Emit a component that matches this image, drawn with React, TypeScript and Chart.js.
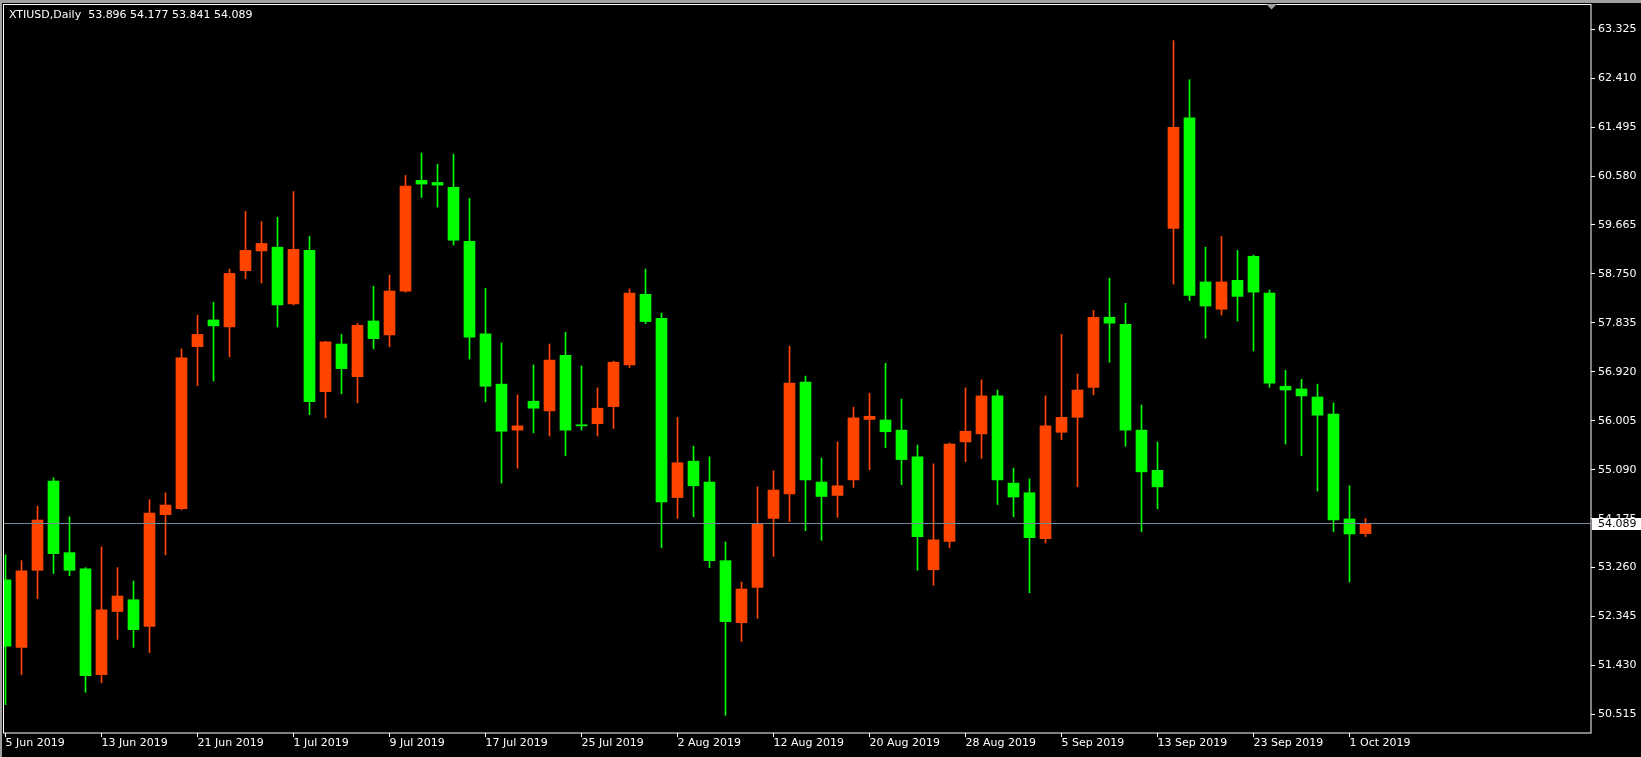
import React, { useEffect, useRef } from "react";
import { Chart, registerables } from "chart.js";

Chart.register(...registerables);

const symbolTitle = "XTIUSD,Daily";

const dates = [
  "2019.06.05", "2019.06.06", "2019.06.07", "2019.06.10", "2019.06.11", "2019.06.12", "2019.06.13", "2019.06.14",
  "2019.06.17", "2019.06.18", "2019.06.19", "2019.06.20", "2019.06.21", "2019.06.24", "2019.06.25", "2019.06.26",
  "2019.06.27", "2019.06.28", "2019.07.01", "2019.07.02", "2019.07.03", "2019.07.04", "2019.07.05", "2019.07.08",
  "2019.07.09", "2019.07.10", "2019.07.11", "2019.07.12", "2019.07.15", "2019.07.16", "2019.07.17", "2019.07.18",
  "2019.07.19", "2019.07.22", "2019.07.23", "2019.07.24", "2019.07.25", "2019.07.26", "2019.07.29", "2019.07.30",
  "2019.07.31", "2019.08.01", "2019.08.02", "2019.08.05", "2019.08.06", "2019.08.07", "2019.08.08", "2019.08.09",
  "2019.08.12", "2019.08.13", "2019.08.14", "2019.08.15", "2019.08.16", "2019.08.19", "2019.08.20", "2019.08.21",
  "2019.08.22", "2019.08.23", "2019.08.26", "2019.08.27", "2019.08.28", "2019.08.29", "2019.08.30", "2019.09.02",
  "2019.09.03", "2019.09.04", "2019.09.05", "2019.09.06", "2019.09.09", "2019.09.10", "2019.09.11", "2019.09.12",
  "2019.09.13", "2019.09.16", "2019.09.17", "2019.09.18", "2019.09.19", "2019.09.20", "2019.09.23", "2019.09.24",
  "2019.09.25", "2019.09.26", "2019.09.27", "2019.09.30", "2019.10.01", "2019.10.02",
];

const opens = [
  53.03, 51.77, 53.21, 54.88, 53.54, 53.24, 51.26, 52.44, 52.66, 52.16,
  54.25, 54.36, 57.39, 57.89, 57.76, 58.81, 59.18, 59.25, 58.19, 59.19,
  56.55, 57.44, 56.83, 57.87, 57.61, 58.43, 60.50, 60.46, 60.37, 59.36,
  57.63, 56.69, 55.83, 56.37, 56.19, 57.23, 55.93, 55.95, 56.27, 57.05,
  58.37, 57.92, 54.57, 55.25, 54.86, 53.39, 52.23, 52.89, 54.18, 54.64,
  56.73, 54.86, 54.61, 54.90, 56.03, 56.02, 55.83, 55.33, 53.22, 53.75,
  55.61, 55.76, 56.47, 54.84, 54.66, 53.80, 55.79, 56.07, 56.63, 57.94,
  57.81, 55.83, 55.08, 59.60, 61.67, 58.60, 58.09, 58.63, 59.08, 58.39,
  56.65, 56.60, 56.45, 56.13, 54.17, 53.896,
];

const highs = [
  53.50, 53.39, 54.41, 54.94, 54.21, 53.26, 53.65, 53.26, 53.01, 54.53,
  54.66, 57.35, 57.98, 58.22, 58.84, 59.92, 59.73, 59.81, 60.29, 59.45,
  57.49, 57.62, 57.83, 58.52, 58.73, 60.59, 61.01, 60.80, 60.99, 60.16,
  58.48, 57.46, 56.49, 57.05, 57.44, 57.66, 57.03, 56.62, 57.12, 58.47,
  58.84, 58.02, 56.07, 55.53, 55.33, 53.74, 52.99, 54.77, 55.07, 57.40,
  56.84, 55.31, 55.61, 56.26, 56.52, 57.08, 56.41, 55.55, 55.20, 55.59,
  56.62, 56.77, 56.58, 55.12, 54.92, 56.47, 57.62, 56.88, 58.07, 58.67,
  58.20, 56.30, 55.61, 63.11, 62.38, 59.25, 59.45, 59.19, 59.10, 58.45,
  56.95, 56.78, 56.69, 56.34, 54.79, 54.177,
];

const lows = [
  50.70, 51.26, 52.68, 53.15, 53.11, 50.93, 51.11, 51.92, 51.77, 51.67,
  53.50, 54.34, 56.66, 56.75, 57.20, 58.66, 58.58, 57.76, 58.17, 56.12,
  56.06, 56.51, 56.34, 57.35, 57.39, 58.41, 60.18, 60.00, 59.29, 57.16,
  56.36, 54.84, 55.12, 55.78, 55.72, 55.35, 55.83, 55.72, 55.86, 57.00,
  57.82, 53.63, 54.18, 54.21, 53.26, 50.50, 51.88, 52.31, 53.47, 54.12,
  53.95, 53.77, 54.20, 54.76, 55.09, 55.50, 54.81, 53.21, 52.93, 53.63,
  55.24, 55.30, 54.44, 54.21, 52.79, 53.72, 55.65, 54.77, 56.49, 57.10,
  55.53, 53.93, 54.36, 58.56, 58.25, 57.55, 57.98, 57.87, 57.31, 56.63,
  55.57, 55.35, 54.69, 53.93, 52.99, 53.841,
];

const closes = [
  51.79, 53.20, 54.15, 53.52, 53.21, 51.24, 52.47, 52.73, 52.10, 54.28,
  54.43, 57.18, 57.62, 57.78, 58.76, 59.19, 59.32, 58.17, 59.21, 56.36,
  57.48, 56.98, 57.79, 57.54, 58.43, 60.39, 60.43, 60.41, 59.38, 57.57,
  56.65, 55.81, 55.91, 56.24, 57.14, 55.83, 55.91, 56.24, 57.10, 58.39,
  57.86, 54.49, 55.22, 54.79, 53.39, 52.25, 52.86, 54.09, 54.71, 56.71,
  54.90, 54.59, 54.79, 56.06, 56.09, 55.80, 55.28, 53.84, 53.78, 55.57,
  55.81, 56.47, 54.90, 54.58, 53.82, 55.91, 56.07, 56.58, 57.94, 57.83,
  55.83, 55.05, 54.77, 61.49, 58.35, 58.15, 58.60, 58.33, 58.41, 56.71,
  56.58, 56.47, 56.11, 54.15, 53.89, 54.089,
];

const xTickIndex = [0, 6, 12, 18, 24, 30, 36, 42, 48, 54, 60, 66, 72, 78, 84];
const xTickLabels = [
  "5 Jun 2019", "13 Jun 2019", "21 Jun 2019", "1 Jul 2019", "9 Jul 2019", "17 Jul 2019",
  "25 Jul 2019", "2 Aug 2019", "12 Aug 2019", "20 Aug 2019", "28 Aug 2019", "5 Sep 2019",
  "13 Sep 2019", "23 Sep 2019", "1 Oct 2019",
];

const yTicks = [
  50.515, 51.43, 52.345, 53.26, 54.175, 55.09, 56.005, 56.92, 57.835, 58.75,
  59.665, 60.58, 61.495, 62.41, 63.325,
];

const W = 1641;
const H = 757;
const BULL = "#FF4500";
const BEAR = "#00FF00";
const FONT = "'DejaVu Sans'";

// axis ranges
const xMin = -0.09375;
const xMax = 99.09375;
const yMin = 50.169;
const yMax = 63.777;

export default function App() {
  const ref = useRef<HTMLCanvasElement | null>(null);

  useEffect(() => {
    document.body.style.margin = "0";
    document.body.style.background = "#000";
    const canvas = ref.current;
    if (!canvas) return;

    const colors = closes.map((c, i) => (c > opens[i] ? BULL : BEAR));
    const last = closes.length - 1;
    const header = `${symbolTitle}  ${opens[last].toFixed(3)} ${highs[last].toFixed(3)} ${lows[last].toFixed(3)} ${closes[last].toFixed(3)}`;

    const mt4 = {
      id: "mt4",
      beforeDraw(chart: any) {
        const ctx = chart.ctx;
        ctx.save();
        ctx.fillStyle = "#000";
        ctx.fillRect(0, 0, W, H);
        ctx.fillStyle = "#A0A0A0";
        ctx.fillRect(0, 0, W, 3);
        ctx.fillRect(0, 0, 2, H);
        ctx.restore();
      },
      afterDatasetsDraw(chart: any) {
        const ctx = chart.ctx;
        const a = chart.chartArea;
        const y = Math.round(chart.scales.y.getPixelForValue(closes[last])) + 0.5;
        ctx.save();
        ctx.strokeStyle = "#778899";
        ctx.lineWidth = 1;
        ctx.beginPath();
        ctx.moveTo(a.left, y);
        ctx.lineTo(a.right, y);
        ctx.stroke();
        ctx.restore();
      },
      afterDraw(chart: any) {
        const ctx = chart.ctx;
        const a = chart.chartArea;
        ctx.save();
        // frame
        ctx.strokeStyle = "#FFFFFF";
        ctx.lineWidth = 1;
        ctx.strokeRect(a.left - 0.5, a.top - 0.5, a.right - a.left + 0.5, a.bottom - a.top + 0.5);
        // header
        ctx.fillStyle = "#FFFFFF";
        ctx.font = `11px ${FONT}`;
        ctx.textBaseline = "alphabetic";
        ctx.textAlign = "left";
        ctx.fillText(header, 9, 18);
        // price label
        const y = Math.round(chart.scales.y.getPixelForValue(closes[last]));
        ctx.fillStyle = "#FFFFFF";
        ctx.fillRect(a.right + 1, y - 5, W - a.right - 1, 12);
        ctx.fillStyle = "#000000";
        ctx.textBaseline = "middle";
        ctx.fillText(closes[last].toFixed(3), a.right + 7, y + 1);
        // chart shift marker
        ctx.fillStyle = "#A0A0A0";
        ctx.beginPath();
        ctx.moveTo(1266, 4);
        ctx.lineTo(1277, 4);
        ctx.lineTo(1271.5, 9.5);
        ctx.closePath();
        ctx.fill();
        ctx.restore();
      },
    };

    const chart = new Chart(canvas, {
      type: "bar",
      data: {
        datasets: [
          {
            label: "body",
            data: opens.map((o, i) => ({ x: i, y: [o, closes[i]] })) as any,
            backgroundColor: colors,
            borderWidth: 0,
            barThickness: 11,
            minBarLength: 1,
            grouped: false,
          } as any,
          {
            label: "wick",
            data: lows.map((l, i) => ({ x: i, y: [l, highs[i]] })) as any,
            backgroundColor: colors,
            borderWidth: 0,
            barThickness: 1,
            grouped: false,
          } as any,
        ],
      },
      options: {
        animation: false,
        responsive: false,
        devicePixelRatio: 1,
        layout: { padding: { left: 4, top: 5, right: 0, bottom: 0 } },
        plugins: { legend: { display: false }, tooltip: { enabled: false } },
        scales: {
          x: {
            type: "linear",
            min: xMin,
            max: xMax,
            offset: false,
            position: "bottom",
            border: { display: false },
            grid: { offset: false, drawOnChartArea: false, drawTicks: true, tickLength: 4, color: "#FFFFFF" },
            afterBuildTicks: (s: any) => {
              s.ticks = xTickIndex.map((v) => ({ value: v }));
            },
            afterFit: (s: any) => {
              s.height = 24;
              s.paddingLeft = 0;
              s.paddingRight = 0;
            },
            ticks: {
              autoSkip: false,
              maxRotation: 0,
              minRotation: 0,
              align: "start",
              padding: 0,
              color: "#FFFFFF",
              font: { family: FONT, size: 11 },
              callback: (v: any) => {
                const k = xTickIndex.indexOf(Number(v));
                return k >= 0 ? xTickLabels[k] : "";
              },
            },
          } as any,
          y: {
            type: "linear",
            position: "right",
            min: yMin,
            max: yMax,
            border: { display: false },
            grid: { drawOnChartArea: false, drawTicks: true, tickLength: 4, color: "#FFFFFF" },
            afterBuildTicks: (s: any) => {
              s.ticks = yTicks.map((v) => ({ value: v }));
            },
            afterFit: (s: any) => {
              s.width = 50;
              s.paddingTop = 0;
              s.paddingBottom = 0;
            },
            ticks: {
              padding: 3,
              color: "#FFFFFF",
              font: { family: FONT, size: 11 },
              callback: (v: any) => Number(v).toFixed(3),
            },
          } as any,
        },
      },
      plugins: [mt4],
    });

    return () => chart.destroy();
  }, []);

  return (
    <div style={{ position: "fixed", left: 0, top: 0, width: W, height: H, background: "#000" }}>
      <canvas ref={ref} width={W} height={H} style={{ display: "block", width: W, height: H }} />
    </div>
  );
}
